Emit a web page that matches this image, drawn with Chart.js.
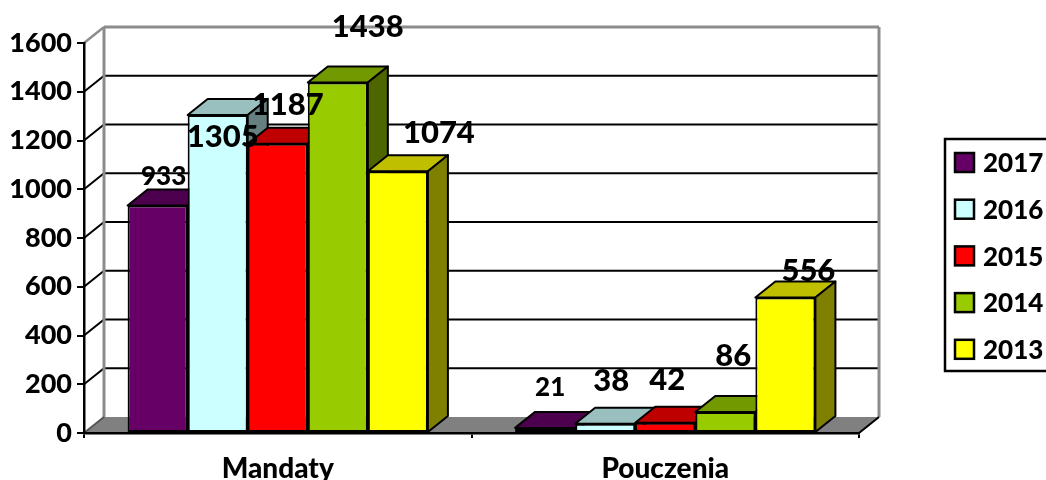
<!DOCTYPE html>
<html>
<head>
<meta charset="utf-8">
<title>Mandaty i pouczenia</title>
<style>
    html, body { margin: 0; padding: 0; background: #fff; }
    canvas { display: block; }
</style>
<script src="https://cdn.jsdelivr.net/npm/chart.js@4"></script>
</head>
<body>
<canvas id="chart" width="1046" height="480"></canvas>
<script>
// Values
const categories = ['Mandaty', 'Pouczenia'];
const years = ['2017', '2016', '2015', '2014', '2013'];
const values2017 = [933, 21];
const values2016 = [1305, 38];
const values2015 = [1187, 42];
const values2014 = [1438, 86];
const values2013 = [1074, 556];
const yTicks = [0, 200, 400, 600, 800, 1000, 1200, 1400, 1600];

// Styles
const fontFamily = 'Lato, Carlito, sans-serif';
const fontWeight = 900;
const frontColors = ['#660066', '#CCFFFF', '#FF0000', '#99CC00', '#FFFF00'];
const topColors = ['#4D004D', '#99BFBF', '#BF0000', '#739900', '#BFBF00'];
const sideColors = ['#330033', '#668080', '#800000', '#4D6600', '#808000'];
const depthX = 20;
const depthY = 16;

// Where each value label sits relative to its bar: [dx, dy, font size]
const labelStyles = [
    [[6, -31, 26], [5, -42, 26]],
    [[5, 20, 31], [6, -45, 31]],
    [[10, -41, 31], [2, -45, 31]],
    [[30, -57, 31], [8, -58, 31]],
    [[41, -40, 31], [23, -28, 31]],
];

function path(ctx, points, fill, stroke, width) {
    ctx.beginPath();
    points.forEach((p, i) => i ? ctx.lineTo(p[0], p[1]) : ctx.moveTo(p[0], p[1]));
    ctx.closePath();
    if (fill) {
        ctx.fillStyle = fill;
        ctx.fill();
    }
    if (stroke) {
        ctx.strokeStyle = stroke;
        ctx.lineWidth = width;
        ctx.stroke();
    }
}

function line(ctx, x1, y1, x2, y2, color, width) {
    ctx.beginPath();
    ctx.moveTo(x1, y1);
    ctx.lineTo(x2, y2);
    ctx.strokeStyle = color;
    ctx.lineWidth = width;
    ctx.stroke();
}

// Back wall, gridlines and floor of the 3D box
const wallPlugin = {
    id: 'wall',
    beforeDraw(chart) {
        const ctx = chart.ctx;
        const area = chart.chartArea;
        const y = chart.scales.y;
        const zero = y.getPixelForValue(0);
        const top = y.getPixelForValue(1600);

        ctx.save();
        path(ctx, [
            [area.left, zero],
            [area.left + depthX, zero - depthY],
            [area.right + depthX, zero - depthY],
            [area.right, zero],
        ], '#808080');

        yTicks.forEach(value => {
            if (value === 0 || value === 1600) return;
            const py = y.getPixelForValue(value);
            line(ctx, area.left, py, area.left + depthX, py - depthY, '#000', 2);
            line(ctx, area.left + depthX, py - depthY, area.right + depthX, py - depthY, '#000', 2);
        });

        line(ctx, area.left, top, area.left + depthX, top - depthY, '#8C8C8C', 2.5);
        line(ctx, area.left + depthX, top - depthY, area.right + depthX, top - depthY, '#8C8C8C', 3);
        line(ctx, area.left + depthX, top - depthY, area.left + depthX, zero - depthY, '#8C8C8C', 3);
        line(ctx, area.right + depthX, top - depthY, area.right + depthX, zero - depthY, '#8C8C8C', 3);
        line(ctx, area.left, zero, area.left + depthX, zero - depthY, '#555', 2);
        line(ctx, area.right, zero, area.right + depthX, zero - depthY, '#000', 2);
        ctx.restore();
    },
};

// Bars are painted left to right so each one covers the side of the previous one
const barsPlugin = {
    id: 'bars3d',
    beforeDatasetsDraw(chart) {
        const ctx = chart.ctx;
        chart.data.datasets.forEach((dataset, d) => {
            chart.getDatasetMeta(d).data.forEach(bar => {
                const left = bar.x - bar.width / 2;
                const right = bar.x + bar.width / 2;
                ctx.save();
                ctx.lineJoin = 'round';
                path(ctx, [
                    [left, bar.y],
                    [left + depthX, bar.y - depthY],
                    [right + depthX, bar.y - depthY],
                    [right, bar.y],
                ], topColors[d], '#000', 2);
                path(ctx, [
                    [right, bar.y],
                    [right + depthX, bar.y - depthY],
                    [right + depthX, bar.base - depthY],
                    [right, bar.base],
                ], sideColors[d], '#000', 2);
                ctx.restore();
                bar.draw(ctx, chart.chartArea);
            });
        });
        return false;
    },
};

// Value labels and the legend box go over everything else
const overlayPlugin = {
    id: 'overlay',
    afterDraw(chart) {
        const ctx = chart.ctx;
        ctx.save();
        ctx.fillStyle = '#000';
        ctx.textAlign = 'center';
        ctx.textBaseline = 'middle';
        chart.data.datasets.forEach((dataset, d) => {
            chart.getDatasetMeta(d).data.forEach((bar, i) => {
                const [dx, dy, size] = labelStyles[d][i];
                ctx.font = `${fontWeight} ${size}px ${fontFamily}`;
                ctx.fillText(String(dataset.data[i]), bar.x + dx, bar.y + dy + 2);
            });
        });

        // legend, its right edge runs off the page like in the original
        ctx.strokeStyle = '#000';
        ctx.lineWidth = 2.5;
        ctx.strokeRect(945, 139, 110, 232);
        ctx.textAlign = 'left';
        ctx.font = `${fontWeight} 26px ${fontFamily}`;
        chart.data.datasets.forEach((dataset, d) => {
            const cy = 163 + d * 46.7;
            ctx.fillStyle = frontColors[d];
            ctx.lineWidth = 2.5;
            ctx.fillRect(955, cy - 10, 19, 19);
            ctx.strokeRect(955, cy - 10, 19, 19);
            ctx.fillStyle = '#000';
            ctx.fillText(dataset.label, 983, cy + 1);
        });
        ctx.restore();
    },
};

const seriesValues = [values2017, values2016, values2015, values2014, values2013];

new Chart(document.getElementById('chart'), {
    type: 'bar',
    data: {
        labels: categories,
        datasets: years.map((year, d) => ({
            label: year,
            data: seriesValues[d],
            backgroundColor: frontColors[d],
            borderColor: '#000',
            borderWidth: 2,
            borderSkipped: false,
            inflateAmount: 0,
            categoryPercentage: 0.775,
            barPercentage: 1,
        })),
    },
    options: {
        responsive: false,
        animation: false,
        layout: { padding: { top: 43, right: 187, left: 0, bottom: 0 } },
        plugins: {
            legend: { display: false },
            tooltip: { enabled: false },
        },
        scales: {
            x: {
                afterFit: scale => { scale.height = 47; },
                grid: { drawOnChartArea: false, color: '#000', lineWidth: 2, tickLength: 5 },
                border: { color: '#000', width: 2.5 },
                ticks: { color: '#000', padding: 14, maxRotation: 0, font: { family: fontFamily, size: 28, weight: fontWeight } },
            },
            y: {
                min: 0,
                max: 1600,
                afterFit: scale => { scale.width = 84; },
                afterBuildTicks: scale => { scale.ticks = yTicks.map(value => ({ value })); },
                grid: { drawOnChartArea: false, color: '#000', lineWidth: 2, tickLength: 7 },
                border: { color: '#000', width: 2.5 },
                ticks: { color: '#000', padding: 5, callback: value => String(value), font: { family: fontFamily, size: 27, weight: fontWeight } },
            },
        },
    },
    plugins: [wallPlugin, barsPlugin, overlayPlugin],
});
</script>
</body>
</html>
